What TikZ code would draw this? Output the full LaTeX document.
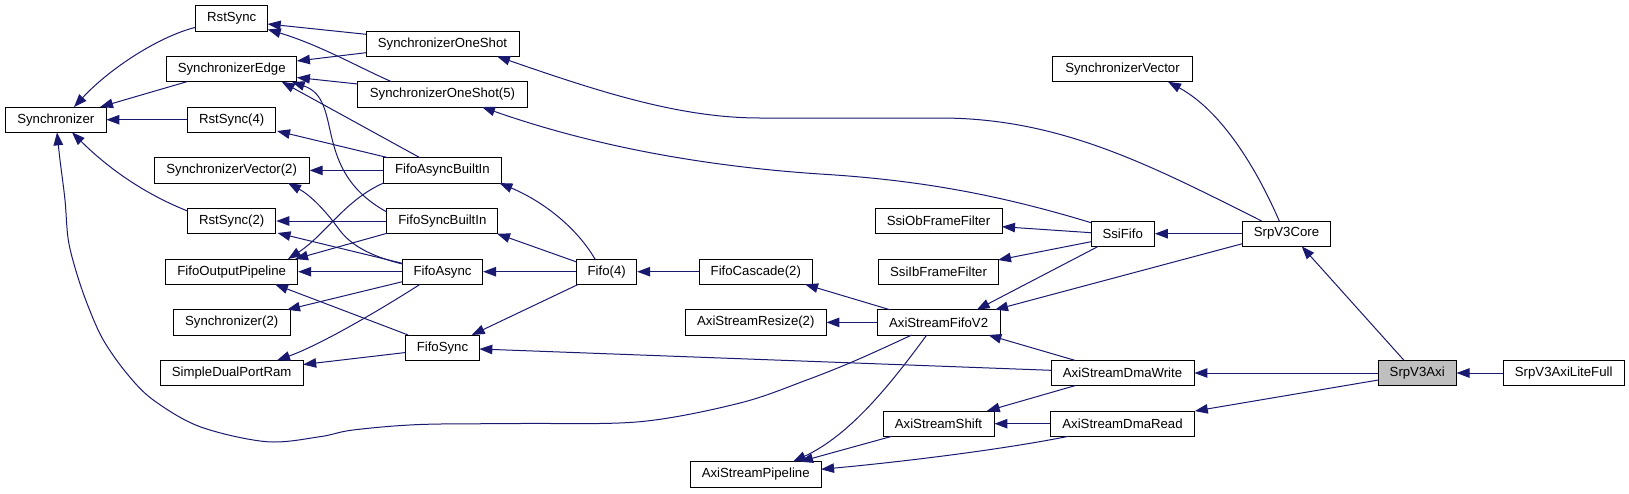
\documentclass[tikz,border=0pt]{standalone}
\usepackage{fontspec}
\setmainfont{Liberation Sans}
\usetikzlibrary{arrows.meta}
\definecolor{edgecol}{HTML}{191970}
\definecolor{hlgray}{HTML}{BFBFBF}
\begin{document}
\begin{tikzpicture}[x=1pt,y=-1pt,
  box/.style={draw=black, line width=0.9pt, fill=white, minimum height=25.3pt, inner sep=0pt,
    font=\fontsize{13.2}{15}\selectfont, text=black},
  hlbox/.style={box, fill=hlgray},
  e/.style={draw=edgecol, line width=1pt, -{Triangle[length=13pt,width=9.5pt]}}]
\useasboundingbox (0,0) rectangle (1629,493);
% rank 0
\node[box, minimum width=100.3pt] (sync) at (55.8,119.7) {Synchronizer};
% rank 1
\node[box, minimum width=72pt] (rst) at (231.7,18.4) {RstSync};
\node[box, minimum width=130.4pt] (sedge) at (231.7,69.1) {SynchronizerEdge};
\node[box, minimum width=88.3pt] (rst4) at (231.7,119.7) {RstSync(4)};
\node[box, minimum width=155pt] (sv2) at (231.7,170.4) {SynchronizerVector(2)};
\node[box, minimum width=88.3pt] (rst2) at (231.7,221.0) {RstSync(2)};
\node[box, minimum width=132pt] (fop) at (231.7,271.7) {FifoOutputPipeline};
\node[box, minimum width=116.7pt] (sync2) at (231.7,322.4) {Synchronizer(2)};
\node[box, minimum width=143pt] (sdpr) at (231.7,373.0) {SimpleDualPortRam};
% rank 2
\node[box, minimum width=153pt] (sos) at (442.5,43.7) {SynchronizerOneShot};
\node[box, minimum width=169.7pt] (sos5) at (442.5,94.4) {SynchronizerOneShot(5)};
\node[box, minimum width=117.7pt] (fabi) at (442.4,170.4) {FifoAsyncBuiltIn};
\node[box, minimum width=111pt] (fsbi) at (442.4,221.0) {FifoSyncBuiltIn};
\node[box, minimum width=80.3pt] (fasync) at (442.5,271.7) {FifoAsync};
\node[box, minimum width=73.7pt] (fsync) at (442.5,347.7) {FifoSync};
% rank 3
\node[box, minimum width=60pt] (fifo4) at (606.7,271.7) {Fifo(4)};
% rank 4
\node[box, minimum width=113.7pt] (fc2) at (755.8,271.7) {FifoCascade(2)};
\node[box, minimum width=140.3pt] (asr2) at (755.8,322.4) {AxiStreamResize(2)};
\node[box, minimum width=130.7pt] (asp) at (755.7,474.3) {AxiStreamPipeline};
% rank 5
\node[box, minimum width=127pt] (soff) at (938.5,221.0) {SsiObFrameFilter};
\node[box, minimum width=120.3pt] (siff) at (938.5,271.7) {SsiIbFrameFilter};
\node[box, minimum width=123.3pt] (asfv2) at (938.6,322.4) {AxiStreamFifoV2};
\node[box, minimum width=111pt] (ashift) at (938.5,423.7) {AxiStreamShift};
% rank 6
\node[box, minimum width=139.6pt] (sv) at (1122.5,69.1) {SynchronizerVector};
\node[box, minimum width=63.3pt] (ssififo) at (1122.7,233.7) {SsiFifo};
\node[box, minimum width=143pt] (asdw) at (1122.5,373.0) {AxiStreamDmaWrite};
\node[box, minimum width=144.4pt] (asdr) at (1122.5,423.7) {AxiStreamDmaRead};
% rank 7-9
\node[box, minimum width=88.3pt] (core) at (1286.5,233.7) {SrpV3Core};
\node[hlbox, minimum width=77.7pt] (axi) at (1417.2,373.0) {SrpV3Axi};
\node[box, minimum width=120.7pt] (lite) at (1563.7,373.0) {SrpV3AxiLiteFull};

% edges into Synchronizer
\draw[e] ([shift={(-36,8.9)}]rst.center) .. controls (160,36) and (110,68) .. ([shift={(18.2,-12.65)}]sync.center);
\draw[e] ([shift={(-45,12.65)}]sedge.center) -- ([shift={(44.2,-12.65)}]sync.center);
\draw[e] (rst4.west) -- (sync.east);
\draw[e] ([shift={(-44.15,-10)}]rst2.center) .. controls (140,192) and (105,165) .. ([shift={(16.2,12.65)}]sync.center);
\coordinate (e5a) at ([shift={(-26.9,12.65)}]asfv2.center);
\coordinate (e5b) at ([shift={(1.2,12.65)}]sync.center);
\draw[e] plot[smooth, tension=0.55] coordinates {(e5a) (856.7,360) (806.7,380) (740,403) (640,421.7) (520,423.5) (420,424.5) (353,430) (320,436.7) (266.7,441.7) (200,426.7) (153.3,400) (126.7,373.3) (103.3,340) (88.3,306.7) (76.7,273.3) (68.3,240) (65,200) (60,160) (e5b)};

% rank 2 -> rank 1
\draw[e] ([shift={(-76.5,-9.4)}]sos.center) -- ([shift={(36,5.6)}]rst.center);
\draw[e] ([shift={(-76.5,9)}]sos.center) -- ([shift={(65.2,-8.1)}]sedge.center);
\draw[e] ([shift={(-50.8,-12.65)}]sos5.center) .. controls (360,68) and (320,45) .. ([shift={(36,11)}]rst.center);
\draw[e] ([shift={(-84.85,-10.4)}]sos5.center) -- ([shift={(65.2,8.4)}]sedge.center);
\draw[e] ([shift={(-22.4,-12.65)}]fabi.center) -- ([shift={(50,12.65)}]sedge.center);
\draw[e] ([shift={(-55.5,-9)}]fsbi.center) .. controls (310,170) and (345,100) .. ([shift={(60,12.65)}]sedge.center);
\draw[e] ([shift={(-54,-12.65)}]fabi.center) -- ([shift={(45.3,11.3)}]rst4.center);
\draw[e] (fabi.west) -- (sv2.east);
\draw[e] ([shift={(-58.85,12.6)}]fabi.center) .. controls (345,200) and (325,235) .. ([shift={(56.3,-12.65)}]fop.center);
\draw[e] ([shift={(-55.5,12.3)}]fsbi.center) -- ([shift={(63.3,-12.65)}]fop.center);
\draw[e] (fsbi.west) -- (rst2.east);
\draw[e] ([shift={(-40.15,-8.4)}]fasync.center) -- ([shift={(45.8,12)}]rst2.center);
\draw[e] ([shift={(-40.15,-7.7)}]fasync.center) .. controls (370,256) and (350,245) .. (338,228) .. controls (325,210) and (310,195) .. ([shift={(56.3,12.65)}]sv2.center);
\draw[e] (fasync.west) -- (fop.east);
\draw[e] ([shift={(-40.15,10)}]fasync.center) -- ([shift={(55.3,-12.65)}]sync2.center);
\draw[e] ([shift={(-22.5,12.65)}]fasync.center) .. controls (380,310) and (320,345) .. ([shift={(45.3,-12.65)}]sdpr.center);
\draw[e] ([shift={(-34.2,-12.65)}]fsync.center) -- ([shift={(43.3,12.65)}]fop.center);
\draw[e] ([shift={(-36.85,4.8)}]fsync.center) -- ([shift={(71.5,-8.5)}]sdpr.center);

% Fifo(4)
\draw[e] ([shift={(-11.7,-12.65)}]fifo4.center) .. controls (575,225) and (540,200) .. ([shift={(57,12.65)}]fabi.center);
\draw[e] ([shift={(-30,-9.7)}]fifo4.center) -- ([shift={(54.6,12.65)}]fsbi.center);
\draw[e] (fifo4.west) -- (fasync.east);
\draw[e] ([shift={(-28.4,12.65)}]fifo4.center) -- ([shift={(29.2,-12.65)}]fsync.center);
\draw[e] (fc2.west) -- (fifo4.east);

% AxiStreamFifoV2
\draw[e] ([shift={(-48.6,-12.65)}]asfv2.center) -- ([shift={(49.2,12.65)}]fc2.center);
\draw[e] (asfv2.west) -- (asr2.east);
\draw[e] ([shift={(-11.9,12.65)}]asfv2.center) .. controls (890,385) and (850,435) .. ([shift={(37.3,-12.65)}]asp.center);

% long edges to SOS / SOS5
\draw[e] ([shift={(-24.8,-12.65)}]core.center) .. controls (1150,165) and (1060,118) .. (940,118) -- (760,118) .. controls (680,118) and (600,92) .. ([shift={(54.5,12.65)}]sos.center);
\draw[e] ([shift={(-31.65,-11)}]ssififo.center) .. controls (1000,195) and (920,180) .. (820,174) .. controls (700,166) and (590,145) .. ([shift={(39.5,12.65)}]sos5.center);

% rank 6 / 7
\draw[e] ([shift={(-71.5,-2.7)}]asdw.center) -- ([shift={(36.85,1.3)}]fsync.center);
\draw[e] ([shift={(-47.5,-12.65)}]asdw.center) -- ([shift={(49.7,12.65)}]asfv2.center);
\draw[e] ([shift={(-44.15,10)}]core.center) -- ([shift={(56.4,-12.65)}]asfv2.center);
\draw[e] ([shift={(-24.4,12.65)}]ssififo.center) -- ([shift={(38.1,-12.65)}]asfv2.center);
\draw[e] ([shift={(-31.65,-1)}]ssififo.center) -- ([shift={(63.5,5.7)}]soff.center);
\draw[e] ([shift={(-31.65,8)}]ssififo.center) -- ([shift={(59.5,-11.7)}]siff.center);
\draw[e] (core.west) -- (ssififo.east);
\draw[e] ([shift={(-7.2,-12.65)}]core.center) .. controls (1255,165) and (1220,110) .. ([shift={(45.5,12.65)}]sv.center);
\draw[e] ([shift={(-13.2,-12.65)}]axi.center) -- ([shift={(15.2,12.65)}]core.center);
\draw[e] (axi.west) -- (asdw.east);
\draw[e] ([shift={(-38.85,7)}]axi.center) -- ([shift={(72.3,-12.65)}]asdr.center);
\draw[e] (lite.west) -- (axi.east);
\draw[e] ([shift={(-47.5,12.65)}]asdw.center) -- ([shift={(48.2,-12.65)}]ashift.center);
\draw[e] (asdr.west) -- (ashift.east);
\draw[e] ([shift={(-54.2,12.65)}]asdr.center) .. controls (1000,450) and (900,462) .. ([shift={(65.35,-5)}]asp.center);
\draw[e] ([shift={(-46.8,12.65)}]ashift.center) -- ([shift={(44.3,-12.65)}]asp.center);
\end{tikzpicture}
\end{document}
